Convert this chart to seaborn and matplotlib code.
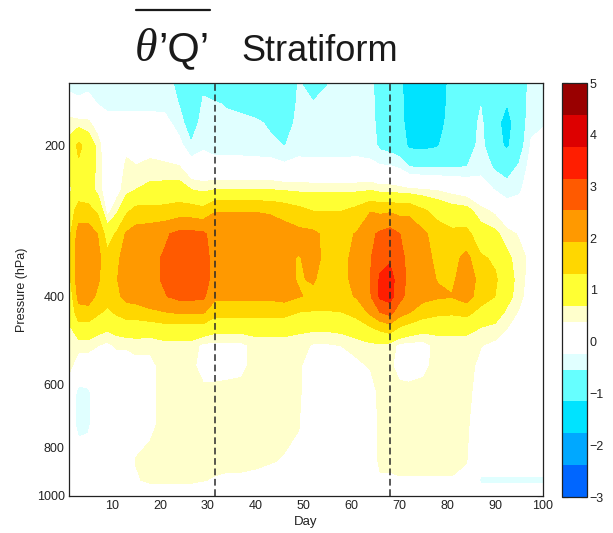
import numpy as np
import matplotlib
matplotlib.use("Agg")
import matplotlib.pyplot as plt
from matplotlib.lines import Line2D
from matplotlib.ticker import NullLocator
import seaborn as sns

sns.set_theme(style="white")
plt.rcParams["font.family"] = ["Liberation Sans", "DejaVu Sans"]

# ---------------------------------------------------------------------------
# Data: stratiform theta'Q' covariance, pressure (hPa) x day
# ---------------------------------------------------------------------------
pressure = [150, 165, 180, 200, 220, 245, 270, 300, 335, 370,
            400, 430, 460, 500, 550, 620, 720, 850, 930, 1000]

days = [1, 3, 5, 7, 9, 11, 13, 15, 18, 21, 24, 26.5, 29, 31.5, 34, 37, 40,
        43, 46, 49, 52, 55, 58, 61, 64, 66, 68, 70, 72, 75, 78, 81, 84, 87,
        90, 92.5, 95, 97.5, 100]

# one vertical profile per day (top -> bottom, same order as `pressure`)
day_001 = [-0.40, 0.00, 0.55, 0.80, 0.75, 0.60, 0.90, 1.10, 1.20, 1.10, 0.85, 0.70, 0.60, 0.55, 0.50, 0.10, 0.00, 0.00, 0.00, 0.00]
day_003 = [-0.45, -0.10, 0.50, 1.45, 1.20, 0.95, 1.60, 2.20, 2.30, 2.30, 2.10, 1.70, 1.10, 0.50, 0.15, -0.35, -0.35, 0.00, 0.00, 0.00]
day_005 = [-0.40, 0.00, 0.45, 1.05, 1.10, 0.95, 1.50, 2.30, 2.40, 2.30, 2.20, 1.70, 1.10, 0.50, 0.15, -0.30, -0.30, 0.00, 0.00, 0.00]
day_007 = [-0.40, -0.25, 0.20, 0.55, 0.55, 0.55, 1.20, 1.90, 2.10, 2.00, 1.80, 1.40, 0.90, 0.40, 0.10, 0.05, 0.00, 0.00, 0.00, 0.00]
day_009 = [-0.40, -0.35, -0.05, 0.05, 0.10, 0.15, 0.25, 1.00, 1.50, 1.60, 1.50, 1.20, 0.80, 0.30, 0.05, 0.00, 0.00, 0.00, 0.00, 0.00]
day_011 = [-0.40, -0.35, -0.05, 0.10, 0.15, 0.25, 0.60, 1.40, 1.80, 1.90, 1.80, 1.40, 0.90, 0.45, 0.10, 0.00, 0.00, 0.00, 0.00, 0.00]
day_013 = [-0.40, -0.35, -0.05, 0.30, 0.45, 0.55, 1.20, 2.00, 2.20, 2.20, 2.10, 1.60, 1.00, 0.45, 0.10, 0.05, 0.00, 0.00, 0.00, 0.00]
day_015 = [-0.40, -0.35, -0.05, 0.20, 0.40, 0.70, 1.50, 2.20, 2.30, 2.30, 2.20, 1.60, 1.00, 0.50, 0.25, 0.20, 0.25, 0.40, 0.35, 0.10]
day_018 = [-0.45, -0.35, -0.05, 0.20, 0.50, 0.80, 1.50, 2.30, 2.40, 2.40, 2.30, 1.80, 1.00, 0.45, 0.30, 0.30, 0.30, 0.50, 0.45, 0.10]
day_021 = [-0.45, -0.35, -0.10, 0.15, 0.45, 0.85, 1.50, 2.45, 2.60, 2.60, 2.50, 1.90, 1.10, 0.55, 0.50, 0.50, 0.50, 0.50, 0.45, 0.10]
day_024 = [-0.60, -0.55, -0.40, -0.10, 0.40, 0.90, 1.60, 2.70, 2.90, 2.90, 2.70, 2.00, 1.10, 0.55, 0.50, 0.50, 0.50, 0.50, 0.45, 0.10]
day_026 = [-0.90, -0.85, -0.75, -0.50, 0.00, 0.70, 1.60, 2.70, 2.90, 2.90, 2.70, 2.00, 1.10, 0.55, 0.50, 0.50, 0.50, 0.50, 0.45, 0.10]
day_029 = [-0.60, -0.50, -0.40, -0.30, 0.00, 0.60, 1.50, 2.65, 2.80, 2.80, 2.65, 2.00, 1.10, 0.30, 0.20, 0.50, 0.50, 0.50, 0.40, 0.10]
day_031 = [-0.85, -0.50, -0.42, -0.40, -0.05, 0.70, 1.90, 2.25, 2.30, 2.30, 2.05, 1.50, 0.90, 0.30, 0.20, 0.50, 0.50, 0.50, 0.35, 0.10]
day_034 = [-0.85, -0.58, -0.42, -0.40, -0.05, 0.70, 1.90, 2.30, 2.35, 2.35, 2.05, 1.50, 0.90, 0.30, 0.25, 0.50, 0.50, 0.50, 0.30, 0.10]
day_037 = [-0.85, -0.65, -0.43, -0.40, -0.05, 0.70, 1.90, 2.30, 2.35, 2.35, 2.05, 1.50, 0.90, 0.30, 0.30, 0.50, 0.50, 0.50, 0.30, 0.10]
day_040 = [-0.88, -0.82, -0.45, -0.40, -0.08, 0.70, 1.90, 2.30, 2.35, 2.35, 2.05, 1.50, 0.90, 0.50, 0.50, 0.50, 0.50, 0.48, 0.25, 0.05]
day_043 = [-0.90, -0.85, -0.62, -0.42, -0.08, 0.70, 1.85, 2.30, 2.30, 2.25, 2.05, 1.50, 0.90, 0.50, 0.50, 0.50, 0.50, 0.42, 0.20, 0.05]
day_046 = [-0.95, -0.90, -0.78, -0.55, -0.15, 0.65, 1.70, 2.20, 2.00, 2.00, 2.15, 1.50, 0.90, 0.50, 0.50, 0.50, 0.50, 0.35, 0.10, 0.00]
day_049 = [-0.50, -0.45, -0.40, -0.38, -0.10, 0.60, 1.50, 2.10, 1.90, 1.90, 1.95, 1.30, 0.80, 0.50, 0.45, 0.45, 0.40, 0.30, 0.10, 0.00]
day_052 = [-0.80, -0.50, -0.40, -0.38, -0.12, 0.60, 1.30, 2.05, 2.05, 1.95, 1.85, 1.25, 0.80, 0.35, 0.10, 0.05, 0.00, 0.00, 0.00, 0.00]
day_055 = [-0.55, -0.45, -0.40, -0.38, -0.12, 0.60, 1.30, 1.75, 1.80, 1.80, 1.75, 1.25, 0.80, 0.35, 0.05, 0.00, 0.00, 0.00, 0.00, 0.00]
day_058 = [-0.45, -0.40, -0.40, -0.38, -0.12, 0.60, 1.30, 1.80, 1.85, 1.85, 1.80, 1.30, 0.85, 0.40, 0.10, 0.00, 0.00, 0.00, 0.00, 0.00]
day_061 = [-0.40, -0.38, -0.36, -0.35, -0.12, 0.60, 1.50, 1.95, 2.00, 2.00, 1.95, 1.50, 1.00, 0.50, 0.30, 0.10, 0.00, 0.00, 0.00, 0.00]
day_064 = [-0.45, -0.42, -0.40, -0.38, -0.15, 0.65, 1.90, 2.40, 2.50, 2.55, 2.50, 2.05, 1.30, 0.60, 0.42, 0.20, 0.10, 0.05, 0.00, 0.00]
day_066 = [-0.75, -0.72, -0.70, -0.62, -0.20, 0.55, 1.80, 2.65, 2.95, 3.25, 3.25, 2.55, 1.50, 0.60, 0.50, 0.50, 0.50, 0.50, 0.30, 0.05]
day_068 = [-0.85, -0.82, -0.80, -0.70, -0.20, 0.55, 1.85, 2.80, 3.05, 3.45, 3.40, 2.75, 1.70, 0.55, 0.45, 0.50, 0.50, 0.50, 0.30, 0.05]
day_070 = [-1.00, -0.95, -0.92, -0.80, -0.30, 0.50, 1.75, 2.55, 2.70, 2.80, 2.75, 2.20, 1.30, 0.30, 0.25, 0.50, 0.50, 0.50, 0.35, 0.05]
day_072 = [-1.45, -1.45, -1.40, -1.25, -0.55, 0.45, 1.80, 2.30, 2.40, 2.40, 2.30, 1.95, 1.10, 0.25, 0.20, 0.50, 0.50, 0.50, 0.35, 0.05]
day_075 = [-1.50, -1.50, -1.45, -1.30, -0.60, 0.40, 1.40, 2.05, 2.10, 2.10, 2.10, 1.60, 0.90, 0.25, 0.30, 0.50, 0.50, 0.50, 0.35, 0.05]
day_078 = [-1.45, -1.45, -1.40, -1.20, -0.60, 0.35, 1.10, 1.60, 1.80, 1.90, 2.00, 1.45, 0.85, 0.50, 0.50, 0.50, 0.50, 0.50, 0.35, 0.05]
day_081 = [-1.00, -0.95, -0.90, -0.80, -0.58, 0.25, 0.90, 1.45, 1.70, 1.80, 1.95, 1.40, 0.85, 0.50, 0.50, 0.50, 0.50, 0.50, 0.35, 0.05]
day_084 = [-0.95, -0.90, -0.85, -0.80, -0.55, 0.15, 0.85, 1.50, 2.10, 2.30, 2.20, 1.50, 0.85, 0.50, 0.50, 0.50, 0.45, 0.40, 0.30, 0.05]
day_087 = [-0.70, -0.55, -0.45, -0.40, -0.35, -0.05, 0.50, 0.90, 1.40, 1.70, 1.60, 1.10, 0.70, 0.40, 0.30, 0.20, 0.10, 0.00, -0.28, 0.00]
day_090 = [-0.90, -0.95, -1.00, -0.95, -0.60, -0.25, 0.30, 0.80, 1.20, 1.40, 1.30, 0.95, 0.60, 0.30, 0.10, 0.00, 0.00, 0.00, -0.28, 0.00]
day_092 = [-0.90, -1.15, -1.35, -1.25, -0.70, -0.40, 0.00, 0.50, 0.80, 0.90, 0.85, 0.60, 0.40, 0.20, 0.05, 0.00, 0.00, 0.00, -0.28, 0.00]
day_095 = [-0.85, -0.85, -0.85, -0.75, -0.50, -0.30, 0.00, 0.35, 0.50, 0.55, 0.50, 0.35, 0.20, 0.10, 0.00, 0.00, 0.00, 0.00, -0.28, 0.00]
day_097 = [-0.40, -0.35, -0.30, -0.20, -0.10, 0.00, 0.10, 0.20, 0.30, 0.20, 0.15, 0.10, 0.00, 0.00, -0.10, -0.10, 0.00, 0.00, -0.28, 0.00]
day_100 = [-0.30, -0.30, -0.25, -0.15, 0.00, 0.00, 0.05, 0.10, 0.10, 0.10, 0.05, 0.00, 0.00, 0.00, 0.00, 0.00, 0.00, 0.00, -0.28, 0.00]

profiles = [day_001, day_003, day_005, day_007, day_009, day_011, day_013,
            day_015, day_018, day_021, day_024, day_026, day_029, day_031,
            day_034, day_037, day_040, day_043, day_046, day_049, day_052,
            day_055, day_058, day_061, day_064, day_066, day_068, day_070,
            day_072, day_075, day_078, day_081, day_084, day_087, day_090,
            day_092, day_095, day_097, day_100]

# contour levels and fill colours (one colour per band)
levels = [-3.0, -2.385, -1.769, -1.154, -0.538, -0.231, 0.385, 0.692,
          1.308, 1.923, 2.538, 3.154, 3.769, 4.385, 5.0]
band_hex = ["#0066ff", "#00a8ff", "#00e3ff", "#66ffff", "#e0ffff", "#ffffff",
            "#ffffcc", "#ffff33", "#ffd700", "#ff9900", "#ff5a00", "#ff1e00",
            "#dd0000", "#990000"]
band_colors = sns.color_palette(band_hex)

cbar_ticks = [-3, -2, -1, 0, 1, 2, 3, 4, 5]
x_ticks = [10, 20, 30, 40, 50, 60, 70, 80, 90, 100]
y_ticks = [200, 400, 600, 800, 900, 1000]
y_tick_labels = ["200", "400", "600", "800", "", "1000"]
marked_days = [31.5, 68]

field = np.column_stack(profiles)

# ---------------------------------------------------------------------------
# Figure
# ---------------------------------------------------------------------------
W, H = 613, 533
fig = plt.figure(figsize=(W / 100, H / 100), dpi=100)
fig.patch.set_facecolor("white")

ax = fig.add_axes([69 / W, 1 - 496 / H, (543 - 69) / W, (496 - 83) / H])
cax = fig.add_axes([562 / W, 1 - 497 / H, 25 / W, (497 - 83) / H])

cf = ax.contourf(days, pressure, field, levels=levels, colors=band_colors)

for d in marked_days:
    ax.axvline(d, color="#2a2a2a", lw=1.1, ls=(0, (4.4, 2.4)))

ax.set_yscale("log")
ax.set_ylim(1000, 150)
ax.set_yticks(y_ticks)
ax.set_yticklabels(y_tick_labels)
ax.yaxis.set_minor_locator(NullLocator())
ax.set_xlim(1, 100)
ax.set_xticks(x_ticks)

tick_color = "#222222"
ax.tick_params(axis="both", which="major", direction="in", length=4,
               width=0.8, top=True, right=True, labelsize=9,
               colors=tick_color, pad=3)
for s in ax.spines.values():
    s.set_color("#222222")
    s.set_linewidth(0.9)

ax.set_xlabel("Day", fontsize=9.5, color=tick_color, labelpad=3)
ax.set_ylabel("Pressure (hPa)", fontsize=9, color=tick_color, labelpad=6)

cb = fig.colorbar(cf, cax=cax, ticks=cbar_ticks, spacing="proportional")
cb.outline.set_edgecolor("#222222")
cb.outline.set_linewidth(0.9)
cax.tick_params(direction="in", length=4, width=0.8, left=True, right=True,
                labelsize=9, colors=tick_color, pad=2)
cax.minorticks_off()

# ---------------------------------------------------------------------------
# Title: overlined theta'Q' followed by "Stratiform"
# ---------------------------------------------------------------------------
base_y = 1 - 61 / H
t_theta = fig.text(135 / W, base_y, "\u03b8", va="baseline", ha="left",
                   family=["Liberation Serif", "DejaVu Serif"],
                   style="italic", size=33, color="#1a1a1a")
t_q = fig.text(0, base_y, "\u2019Q\u2019", va="baseline", ha="left",
               family=["Liberation Sans", "DejaVu Sans"], size=30,
               color="#1a1a1a")
t_name = fig.text(398 / W, base_y, "Stratiform", va="baseline", ha="right",
                  family=["Liberation Sans", "DejaVu Sans"], size=26,
                  color="#1a1a1a")
fig.canvas.draw()
renderer = fig.canvas.get_renderer()
th_box = t_theta.get_window_extent(renderer)
t_q.set_x((th_box.x1 + 1) / W)
fig.canvas.draw()
q_box = t_q.get_window_extent(renderer)
fig.add_artist(Line2D([(th_box.x0 + 1) / W, q_box.x1 / W],
                      [1 - 9.5 / H, 1 - 9.5 / H],
                      transform=fig.transFigure, color="#1a1a1a", lw=1.6))

fig.savefig("out.png", dpi=100, facecolor="white")
